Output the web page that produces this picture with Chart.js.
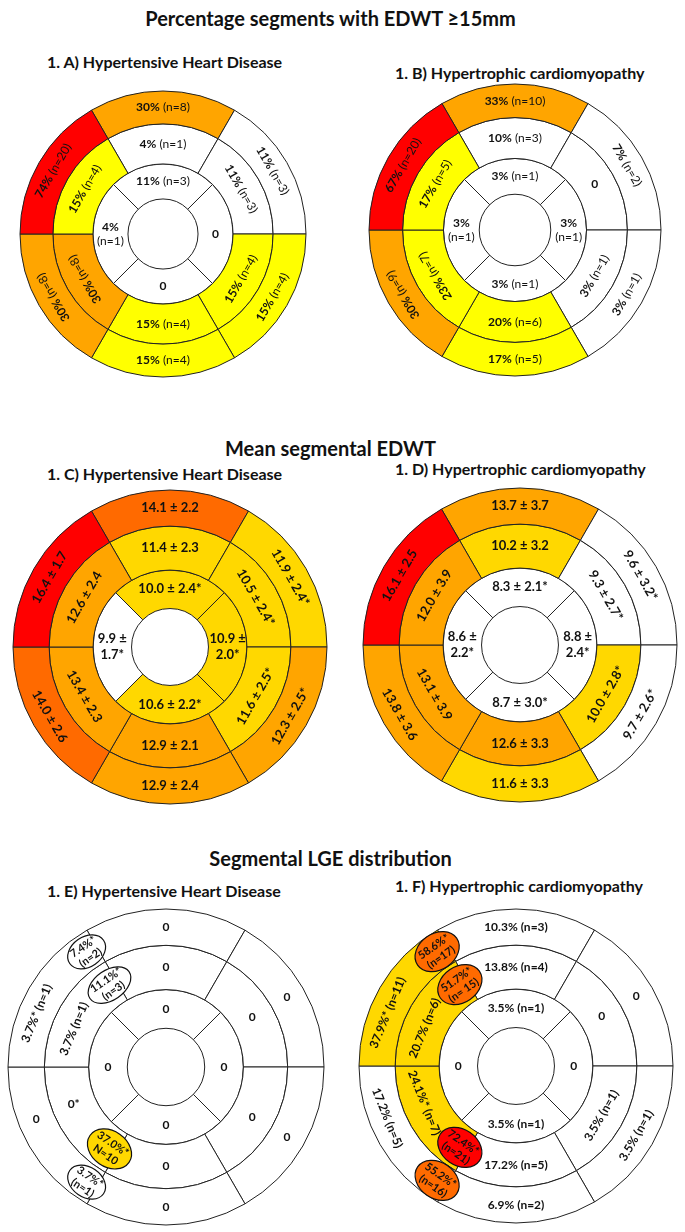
<!DOCTYPE html>
<html>
<head>
<meta charset="utf-8">
<script src="https://cdn.jsdelivr.net/npm/chart.js@4.4.1/dist/chart.umd.min.js"></script>
<style>
  body { margin: 0; background: #fff; }
  #page { position: relative; width: 685px; height: 1232px; font-family: Lato, "Open Sans", sans-serif; color: #111; }
  .title { position: absolute; left: -12px; width: 685px; text-align: center; font-weight: bold; font-size: 20px; line-height: 24px; }
  .sub { position: absolute; font-weight: bold; font-size: 16px; line-height: 20px; white-space: nowrap; }
  canvas { position: absolute; }
</style>
</head>
<body>
<div id="page">
  <div class="title" style="top:6px">Percentage segments with EDWT ≥15mm</div>
  <div class="sub" style="left:47px;top:52px">1. A) Hypertensive Heart Disease</div>
  <div class="sub" style="left:395px;top:63px">1. B) Hypertrophic cardiomyopathy</div>

  <div class="title" style="top:436px">Mean segmental EDWT</div>
  <div class="sub" style="left:47px;top:464px">1. C) Hypertensive Heart Disease</div>
  <div class="sub" style="left:395px;top:459px">1. D) Hypertrophic cardiomyopathy</div>

  <div class="title" style="top:846px">Segmental LGE distribution</div>
  <div class="sub" style="left:47px;top:881px">1. E) Hypertensive Heart Disease</div>
  <div class="sub" style="left:395px;top:876px">1. F) Hypertrophic cardiomyopathy</div>

  <canvas id="chartA"></canvas>
  <canvas id="chartB"></canvas>
  <canvas id="chartC"></canvas>
  <canvas id="chartD"></canvas>
  <canvas id="chartE"></canvas>
  <canvas id="chartF"></canvas>
</div>
<script>
// segments go clockwise from the anterior (top) segment
const basalSegments = ['Anterior', 'Anterolateral', 'Inferolateral', 'Inferior', 'Inferoseptal', 'Anteroseptal'];
const apicalSegments = ['Apical anterior', 'Apical lateral', 'Apical inferior', 'Apical septal'];
const basalArc = [60, 60, 60, 60, 60, 60];
const apicalArc = [90, 90, 90, 90];

// 1. A) HHD, % segments with EDWT >= 15mm
const hhdPctBasal = [30, 11, 15, 15, 30, 74];
const hhdNBasal = [8, 3, 4, 4, 8, 20];
const hhdPctMid = [4, 11, 15, 15, 30, 15];
const hhdNMid = [1, 3, 4, 4, 8, 4];
const hhdPctApical = [11, 0, 0, 4];
const hhdNApical = [3, 0, 0, 1];

// 1. B) HCM, % segments with EDWT >= 15mm
const hcmPctBasal = [33, 7, 3, 17, 30, 67];
const hcmNBasal = [10, 2, 1, 5, 9, 20];
const hcmPctMid = [10, 0, 3, 20, 23, 17];
const hcmNMid = [3, 0, 1, 6, 7, 5];
const hcmPctApical = [3, 3, 3, 3];
const hcmNApical = [1, 1, 1, 1];

// 1. C) HHD, mean EDWT (mm) +- SD, * = significant
const hhdMeanBasal = [14.1, 11.9, 12.3, 12.9, 14.0, 16.4];
const hhdSdBasal = [2.2, 2.4, 2.5, 2.4, 2.6, 1.7];
const hhdStarBasal = [0, 1, 1, 0, 0, 0];
const hhdMeanMid = [11.4, 10.5, 11.6, 12.9, 13.4, 12.6];
const hhdSdMid = [2.3, 2.4, 2.5, 2.1, 2.3, 2.4];
const hhdStarMid = [0, 1, 1, 0, 0, 0];
const hhdMeanApical = [10.0, 10.9, 10.6, 9.9];
const hhdSdApical = [2.4, 2.0, 2.2, 1.7];
const hhdStarApical = [1, 1, 1, 1];

// 1. D) HCM, mean EDWT (mm) +- SD
const hcmMeanBasal = [13.7, 9.6, 9.7, 11.6, 13.8, 16.1];
const hcmSdBasal = [3.7, 3.2, 2.6, 3.3, 3.6, 2.5];
const hcmStarBasal = [0, 1, 1, 0, 0, 0];
const hcmMeanMid = [10.2, 9.3, 10.0, 12.6, 13.1, 12.0];
const hcmSdMid = [3.2, 2.7, 2.8, 3.3, 3.9, 3.9];
const hcmStarMid = [0, 1, 1, 0, 0, 0];
const hcmMeanApical = [8.3, 8.8, 8.7, 8.6];
const hcmSdApical = [2.1, 2.4, 3.0, 2.2];
const hcmStarApical = [1, 1, 1, 1];

// 1. E) HHD, LGE %
const hhdLgeBasal = [0, 0, 0, 0, 0, 3.7];
const hhdLgeNBasal = [0, 0, 0, 0, 0, 1];
const hhdLgeStarBasal = [0, 0, 0, 0, 0, 1];
const hhdLgeMid = [0, 0, 0, 0, 0, 3.7];
const hhdLgeNMid = [0, 0, 0, 0, 0, 1];
const hhdLgeStarMid = [0, 0, 0, 0, 1, 0];
const hhdLgeApical = [0, 0, 0, 0];
const hhdLgeNApical = [0, 0, 0, 0];
// RV insertion points
const hhdJunctionPct = [7.4, 11.1, 37.0, 3.7];
const hhdJunctionN = ['(n=2)', '(n=3)', 'N=10', '(n=1)'];
const hhdJunctionRing = [0, 1, 1, 0];
const hhdJunctionSide = ['sup', 'sup', 'inf', 'inf'];

// 1. F) HCM, LGE %
const hcmLgeBasal = [10.3, 0, 3.5, 6.9, 17.2, 37.9];
const hcmLgeNBasal = [3, 0, 1, 2, 5, 11];
const hcmLgeStarBasal = [0, 0, 0, 0, 0, 1];
const hcmLgeMid = [13.8, 0, 3.5, 17.2, 24.1, 20.7];
const hcmLgeNMid = [4, 0, 1, 5, 7, 6];
const hcmLgeStarMid = [0, 0, 0, 0, 1, 0];
const hcmLgeApical = [3.5, 0, 3.5, 0];
const hcmLgeNApical = [1, 0, 1, 0];
const hcmJunctionPct = [58.6, 51.7, 72.4, 55.2];
const hcmJunctionN = ['(n=17)', '(n= 15)', '(n=21)', '(n=16)'];
const hcmJunctionRing = [0, 1, 1, 0];
const hcmJunctionSide = ['sup', 'sup', 'inf', 'inf'];

// colour scales
const pctScale = { cuts: [15, 30, 60], colors: ['#ffffff', '#ffff00', '#ffa500', '#ff0000'] };
const meanScale = { cuts: [10, 12, 14, 16], colors: ['#ffffff', '#ffd800', '#ffa500', '#ff6a00', '#ff0000'] };
const lgeScale = { cuts: [20, 50, 70], colors: ['#ffffff', '#ffd800', '#ff6a00', '#ff0000'] };

function colorFor(v, scale) {
  let i = 0;
  while (i < scale.cuts.length && v >= scale.cuts[i]) i++;
  return scale.colors[i];
}

// label makers -> {main, sub, subBold}
const fmtPct = (p, n) => p === 0 ? { main: '0', sub: '' } : { main: p + '%', sub: '(n=' + n + ')', subBold: false };
const fmtMean = (m, sd, s) => ({ main: m.toFixed(1) + ' ±', sub: sd.toFixed(1) + (s ? '*' : ''), subBold: true });
const fmtLge = (p, n, s) => p === 0 ? { main: s ? '0*' : '0', sub: '' } : { main: p.toFixed(1) + '%' + (s ? '*' : ''), sub: '(n=' + n + ')', subBold: true };

function readable(rot) {
  while (rot > Math.PI) rot -= 2 * Math.PI;
  while (rot <= -Math.PI) rot += 2 * Math.PI;
  if (rot > Math.PI / 2) rot -= Math.PI;
  if (rot < -Math.PI / 2) rot += Math.PI;
  return rot;
}

function font(size, bold) {
  return (bold ? 'bold ' : '') + size + 'px Lato, "Open Sans", sans-serif';
}

// draw a line of text parts centred on (0, y)
function drawParts(ctx, parts, y, size) {
  let w = 0;
  parts.forEach(p => { ctx.font = font(size, p.bold); p.w = ctx.measureText(p.t).width; w += p.w; });
  let x = -w / 2;
  parts.forEach(p => { ctx.font = font(size, p.bold); ctx.fillText(p.t, x, y); x += p.w; });
}

function labelPlugin(rings, junctions, size, flipInferoseptal) {
  const jn = junctions || [];
  return {
    id: 'segLabels',
    afterDatasetsDraw(chart) {
      const ctx = chart.ctx;
      ctx.save();
      ctx.fillStyle = '#111';
      ctx.textBaseline = 'middle';
      ctx.textAlign = 'left';
      rings.forEach((ring, i) => {
        chart.getDatasetMeta(i).data.forEach((arc, j) => {
          const p = arc.getProps(['x', 'y', 'startAngle', 'endAngle', 'innerRadius', 'outerRadius'], true);
          let a = (p.startAngle + p.endAngle) / 2;
          // nudge labels away from an RV-insertion marker in the same ring
          if (j === 5 && jn.some(k => k.ring === i && k.side === 'sup')) a -= 0.13;
          if (j === 4 && jn.some(k => k.ring === i && k.side === 'inf')) a += 0.14;
          const r = (p.innerRadius + p.outerRadius) / 2;
          const lab = ring[j];
          ctx.save();
          ctx.translate(p.x + Math.cos(a) * r, p.y + Math.sin(a) * r);
          const main = { t: lab.main, bold: true };
          if (!lab.sub) {
            drawParts(ctx, [main], 0, size);
          } else if (i === 2) {
            if (Math.abs(Math.cos(a)) > 0.7) {
              drawParts(ctx, [main], -size * 0.6, size);
              drawParts(ctx, [{ t: lab.sub, bold: lab.subBold }], size * 0.6, size);
            } else {
              drawParts(ctx, [main, { t: ' ' + lab.sub, bold: lab.subBold }], 0, size);
            }
          } else {
            let rot = readable(a + Math.PI / 2);
            if (flipInferoseptal && j === 4) rot += Math.PI;
            ctx.rotate(rot);
            drawParts(ctx, [main, { t: ' ' + lab.sub, bold: lab.subBold }], 0, size);
          }
          ctx.restore();
        });
      });
      jn.forEach(k => {
        const arcs = chart.getDatasetMeta(k.ring).data;
        const arc = k.side === 'sup' ? arcs[0] : arcs[4];
        const p = arc.getProps(['x', 'y', 'startAngle', 'innerRadius', 'outerRadius'], true);
        const a = p.startAngle + (k.side === 'sup' ? -0.08 : 0.08);
        const r = (p.innerRadius + p.outerRadius) / 2;
        const fs = 11;
        ctx.save();
        ctx.translate(p.x + Math.cos(a) * r, p.y + Math.sin(a) * r);
        ctx.rotate(readable(a + Math.PI / 2));
        ctx.font = font(fs, true);
        const w = Math.max(ctx.measureText(k.top).width, ctx.measureText(k.bottom).width);
        const filled = k.color !== '#ffffff';
        ctx.beginPath();
        ctx.ellipse(0, 0, w / 2 + 6, filled ? 18 : 15, 0, 0, 2 * Math.PI);
        ctx.fillStyle = k.color;
        ctx.fill();
        ctx.lineWidth = 1.2;
        ctx.strokeStyle = '#111';
        ctx.stroke();
        ctx.fillStyle = '#111';
        drawParts(ctx, [{ t: k.top, bold: true }], -6, fs);
        drawParts(ctx, [{ t: k.bottom, bold: true }], 7, fs);
        ctx.restore();
      });
      ctx.restore();
    }
  };
}

const RING_WEIGHTS = [23, 28, 24.5];

function bullseye(id, cx, cy, radius, values, labels, scale, size, junctions, flip) {
  const cv = document.getElementById(id);
  const side = 2 * radius + 8;
  cv.width = side; cv.height = side;
  cv.style.left = (cx - side / 2) + 'px';
  cv.style.top = (cy - side / 2) + 'px';
  new Chart(cv, {
    type: 'doughnut',
    data: {
      labels: basalSegments,
      datasets: values.map((vals, i) => ({
        label: i === 2 ? 'Apical' : (i === 1 ? 'Mid' : 'Basal'),
        data: i === 2 ? apicalArc : basalArc,
        backgroundColor: vals.map(v => colorFor(v, scale)),
        borderColor: '#222',
        borderWidth: 1,
        rotation: i === 2 ? -45 : -30,
        weight: RING_WEIGHTS[i]
      }))
    },
    options: {
      responsive: false,
      animation: false,
      events: [],
      radius: radius,
      cutout: '24.5%',
      plugins: { legend: { display: false }, tooltip: { enabled: false } }
    },
    plugins: [labelPlugin(labels, junctions, size, flip)]
  });
}

const zip3 = (a, b, c, f) => a.map((v, i) => f(v, b[i], c ? c[i] : 0));
const junctionList = (pct, n, ring, side) => pct.map((p, i) => ({
  top: p.toFixed(1) + '%*', bottom: n[i], ring: ring[i], side: side[i], color: colorFor(p, lgeScale)
}));

bullseye('chartA', 163, 234, 143,
  [hhdPctBasal, hhdPctMid, hhdPctApical],
  [zip3(hhdPctBasal, hhdNBasal, null, fmtPct), zip3(hhdPctMid, hhdNMid, null, fmtPct), zip3(hhdPctApical, hhdNApical, null, fmtPct)],
  pctScale, 12, null, true);

bullseye('chartB', 515, 230, 146,
  [hcmPctBasal, hcmPctMid, hcmPctApical],
  [zip3(hcmPctBasal, hcmNBasal, null, fmtPct), zip3(hcmPctMid, hcmNMid, null, fmtPct), zip3(hcmPctApical, hcmNApical, null, fmtPct)],
  pctScale, 12, null, true);

bullseye('chartC', 170, 647, 157,
  [hhdMeanBasal, hhdMeanMid, hhdMeanApical],
  [zip3(hhdMeanBasal, hhdSdBasal, hhdStarBasal, fmtMean), zip3(hhdMeanMid, hhdSdMid, hhdStarMid, fmtMean), zip3(hhdMeanApical, hhdSdApical, hhdStarApical, fmtMean)],
  meanScale, 13);

bullseye('chartD', 520, 645, 157,
  [hcmMeanBasal, hcmMeanMid, hcmMeanApical],
  [zip3(hcmMeanBasal, hcmSdBasal, hcmStarBasal, fmtMean), zip3(hcmMeanMid, hcmSdMid, hcmStarMid, fmtMean), zip3(hcmMeanApical, hcmSdApical, hcmStarApical, fmtMean)],
  meanScale, 13);

bullseye('chartE', 166, 1067, 158,
  [hhdLgeBasal, hhdLgeMid, hhdLgeApical],
  [zip3(hhdLgeBasal, hhdLgeNBasal, hhdLgeStarBasal, fmtLge), zip3(hhdLgeMid, hhdLgeNMid, hhdLgeStarMid, fmtLge), zip3(hhdLgeApical, hhdLgeNApical, null, fmtLge)],
  lgeScale, 12, junctionList(hhdJunctionPct, hhdJunctionN, hhdJunctionRing, hhdJunctionSide));

bullseye('chartF', 516, 1066, 157,
  [hcmLgeBasal, hcmLgeMid, hcmLgeApical],
  [zip3(hcmLgeBasal, hcmLgeNBasal, hcmLgeStarBasal, fmtLge), zip3(hcmLgeMid, hcmLgeNMid, hcmLgeStarMid, fmtLge), zip3(hcmLgeApical, hcmLgeNApical, null, fmtLge)],
  lgeScale, 12, junctionList(hcmJunctionPct, hcmJunctionN, hcmJunctionRing, hcmJunctionSide));
</script>
</body>
</html>
